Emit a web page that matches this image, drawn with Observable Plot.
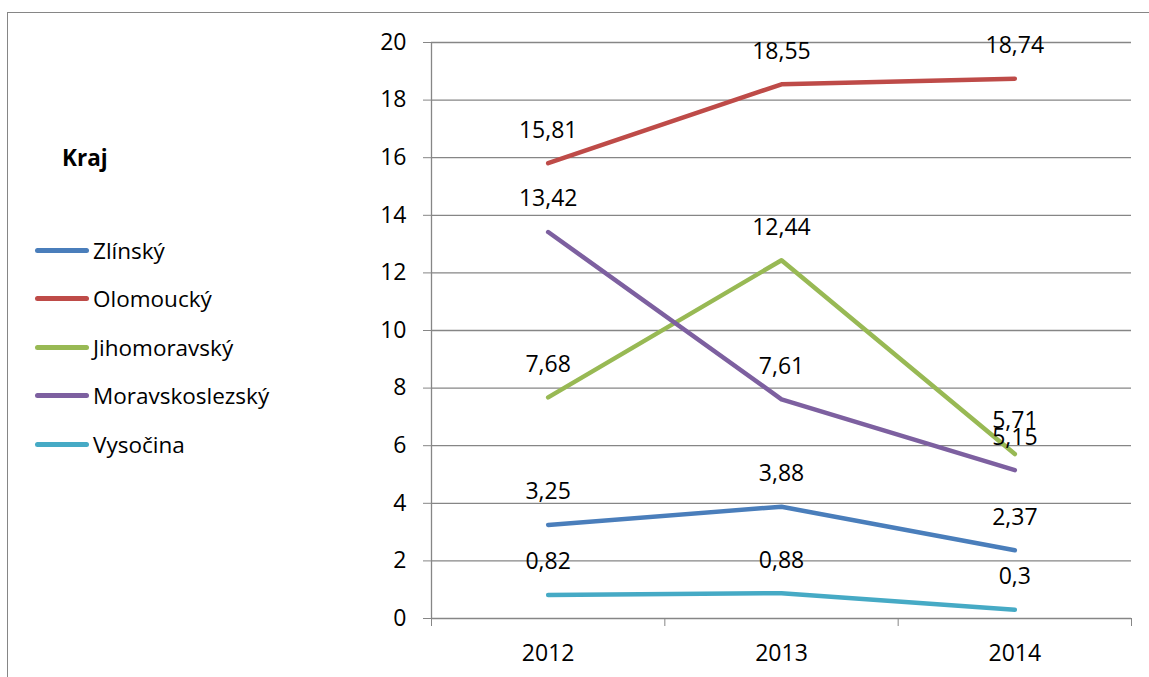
<!DOCTYPE html>
<html>
<head>
<meta charset="utf-8">
<script src="https://cdn.jsdelivr.net/npm/d3@7"></script>
<script src="https://cdn.jsdelivr.net/npm/@observablehq/plot@0.6"></script>
<style>
  html, body { margin: 0; padding: 0; background: #fff; overflow: hidden; }
  body { width: 1149px; height: 677px; position: relative; font-family: "Open Sans", sans-serif; }
  #frame { position: absolute; left: 7px; top: 12px; width: 1200px; height: 700px; border: 1px solid #868686; box-sizing: border-box; }
  #chart { position: absolute; left: 0; top: 0; }
  #legend { position: absolute; left: 0; top: 0; font-size: 22.5px; color: #000; }
  #legend .title { position: absolute; left: 62px; top: 143px; font-weight: bold; white-space: nowrap; line-height: 30px; }
  #legend .item { position: absolute; left: 35px; height: 30px; white-space: nowrap; display: flex; align-items: center; }
  #legend .swatch { width: 54px; height: 5px; border-radius: 3px; margin-right: 4px; }
</style>
</head>
<body>
<div id="frame"></div>
<div id="chart"></div>
<div id="legend"></div>
<script>
// Years on the horizontal axis
const years = [2012, 2013, 2014];
// Regions (Kraj) and their line colours
const regions = ["Zlínský", "Olomoucký", "Jihomoravský", "Moravskoslezský", "Vysočina"];
const colors = ["#4A7EBB", "#BE4B48", "#98B954", "#7D60A0", "#46AAC5"];
// Values per region, one per year
const zlinsky = [3.25, 3.88, 2.37];
const olomoucky = [15.81, 18.55, 18.74];
const jihomoravsky = [7.68, 12.44, 5.71];
const moravskoslezsky = [13.42, 7.61, 5.15];
const vysocina = [0.82, 0.88, 0.3];
// Y axis ticks
const yTicks = [0, 2, 4, 6, 8, 10, 12, 14, 16, 18, 20];

const series = [zlinsky, olomoucky, jihomoravsky, moravskoslezsky, vysocina];
const data = regions.flatMap((region, i) =>
  years.map((year, j) => ({region, year, value: series[i][j]}))
);
const fmt = v => String(v).replace(".", ",");

// Category boundaries for the x-axis tick marks
const bounds = [years[0] - 0.5, ...years.map(y => y + 0.5)];
const grid = "#868686";
const fs = 23;

const chart = Plot.plot({
  width: 1149,
  height: 677,
  marginLeft: 431,
  marginRight: 18,
  marginTop: 42,
  marginBottom: 59,
  style: {fontFamily: "'Open Sans', sans-serif", background: "transparent", overflow: "visible"},
  x: {domain: [bounds[0], bounds[bounds.length - 1]]},
  y: {domain: [0, 20]},
  color: {domain: regions, range: colors},
  marks: [
    Plot.ruleY(yTicks, {stroke: grid, strokeWidth: 1.3}),
    Plot.ruleX([bounds[0]], {y1: 0, y2: 20, stroke: grid, strokeWidth: 1.3}),
    Plot.axisY({ticks: yTicks, tickSize: 8, tickPadding: 17, fontSize: fs, stroke: grid, fill: "#000", label: null, tickFormat: d => String(d)}),
    Plot.axisX({ticks: bounds, tickSize: 8, tickFormat: () => "", stroke: grid, label: null}),
    Plot.axisX({ticks: years, tickSize: 0, tickPadding: 26, fontSize: fs, fill: "#000", label: null, tickFormat: d => String(d)}),
    Plot.line(data, {x: "year", y: "value", z: "region", stroke: "region", strokeWidth: 4.5, strokeLinecap: "round", strokeLinejoin: "round"}),
    Plot.text(data, {x: "year", y: "value", text: d => fmt(d.value), dy: -33, fontSize: fs, fill: "#000"})
  ]
});
document.getElementById("chart").appendChild(chart);

// Legend
const legend = document.getElementById("legend");
const title = document.createElement("div");
title.className = "title";
title.textContent = "Kraj";
legend.appendChild(title);
regions.forEach((r, i) => {
  const item = document.createElement("div");
  item.className = "item";
  item.style.top = (235 + i * 48.5) + "px";
  const sw = document.createElement("span");
  sw.className = "swatch";
  sw.style.background = colors[i];
  const label = document.createElement("span");
  label.textContent = r;
  item.appendChild(sw);
  item.appendChild(label);
  legend.appendChild(item);
});
</script>
</body>
</html>
